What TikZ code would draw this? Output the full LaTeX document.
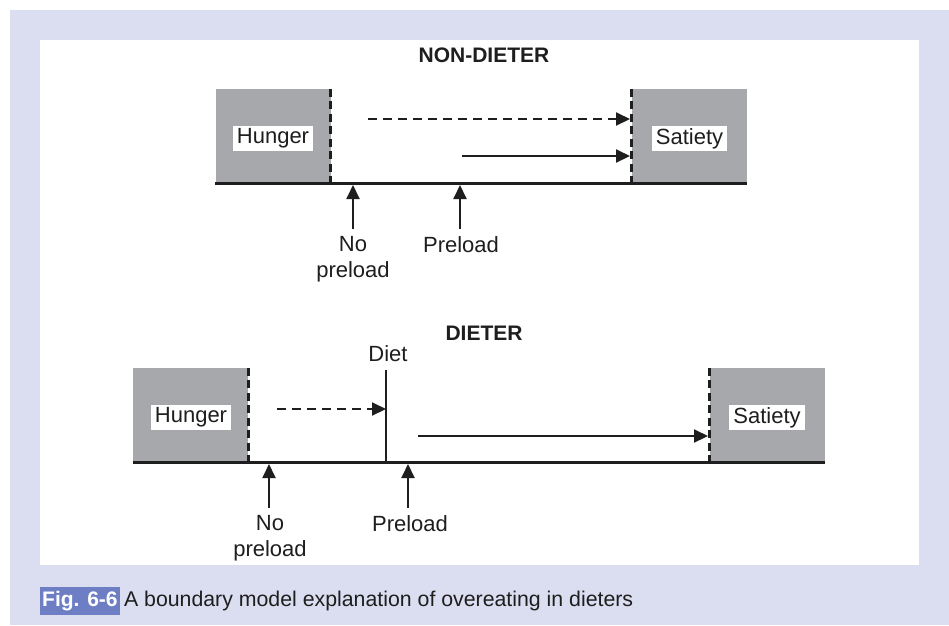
\documentclass[tikz,border=0pt]{standalone}
\usepackage{fontspec}
\setmainfont{Liberation Sans}
\usetikzlibrary{arrows.meta}
\definecolor{panel}{RGB}{219,221,240}
\definecolor{capblue}{RGB}{110,126,196}
\definecolor{boxgray}{RGB}{167,168,171}
\definecolor{ink}{RGB}{30,30,30}
\begin{document}
\begin{tikzpicture}[x=1pt,y=-1pt,
  txt/.style={font=\fontsize{22}{26}\selectfont, text=ink, inner sep=0pt},
  zone/.style={fill=boxgray, minimum width=115pt, minimum height=94pt, inner sep=0pt},
  lab/.style={fill=white, font=\fontsize{22}{26}\selectfont, text=ink, inner xsep=4pt, minimum height=25pt, inner ysep=0pt},
  edge/.style={draw=ink, line width=2.8pt, dash pattern=on 8pt off 4.5pt},
  base/.style={draw=ink, line width=3pt},
  arr/.style={draw=ink, line width=2pt, -{Triangle[length=14pt,width=13pt]}},
  darr/.style={arr, dash pattern=on 9pt off 6pt},
  ttl/.style={font=\bfseries\fontsize{21}{24}\selectfont, text=ink, inner sep=0pt}]
\useasboundingbox (0,0) rectangle (949,625);
\fill[white] (0,0) rectangle (949,625);
\fill[panel] (10,10) rectangle (949,625);
\fill[white] (40,40) rectangle (919,565);

% ---------- NON-DIETER ----------
\node[ttl] (t1) at (484,55) {NON-DIETER};
\node[zone] (h1) at (273,136) {};
\node[zone] (s1) at (689.5,136) {};
\node[lab] (h1l) at (273,138.5) {Hunger};
\node[lab] (s1l) at (689.5,138.5) {Satiety};
\draw[edge] (h1.north east) -- (h1.south east);
\draw[edge] (s1.north west) -- (s1.south west);
\draw[base] (h1.south west) -- (s1.south east);
\coordinate (d1s) at (368,119);
\coordinate (d1e) at (630,119);
\draw[darr] (d1s) -- (d1e);
\coordinate (a1s) at (462,156);
\coordinate (a1e) at (630,156);
\draw[arr] (a1s) -- (a1e);
\node[txt, align=center, anchor=north] (np1) at (353,236) {No\\preload};
\node[txt, anchor=north] (p1) at (461,236) {Preload};
\coordinate (np1b) at (353,229);
\coordinate (p1b) at (460,229);
\coordinate (np1t) at (353,185);
\coordinate (p1t) at (460,185);
\draw[arr] (np1b) -- (np1t);
\draw[arr] (p1b) -- (p1t);

% ---------- DIETER ----------
\node[ttl] (t2) at (484,333) {DIETER};
\node[zone] (h2) at (190.5,415) {};
\node[zone] (s2) at (767.5,415) {};
\node[lab] (h2l) at (191,417.5) {Hunger};
\node[lab] (s2l) at (767,417.5) {Satiety};
\draw[edge] (h2.north east) -- (h2.south east);
\draw[edge] (s2.north west) -- (s2.south west);
\draw[base] (h2.south west) -- (s2.south east);
\node[txt] (diet) at (388,354) {Diet};
\coordinate (dtop) at (386,370);
\coordinate (dbot) at (386,462);
\draw[draw=ink, line width=2pt] (dtop) -- (dbot);
\coordinate (d2s) at (277,409);
\coordinate (d2e) at (386,409);
\draw[darr] (d2s) -- (d2e);
\coordinate (a2s) at (418,436);
\coordinate (a2e) at (708,436);
\draw[arr] (a2s) -- (a2e);
\node[txt, align=center, anchor=north] (np2) at (270,515) {No\\preload};
\node[txt, anchor=north] (p2) at (410,515) {Preload};
\coordinate (np2b) at (269,508);
\coordinate (p2b) at (408,508);
\coordinate (np2t) at (269,464);
\coordinate (p2t) at (408,464);
\draw[arr] (np2b) -- (np2t);
\draw[arr] (p2b) -- (p2t);

% ---------- caption ----------
\node[fill=capblue, text=white, font=\bfseries\fontsize{21}{24}\selectfont, anchor=west, inner xsep=2pt, minimum height=28pt, inner ysep=0pt] (fig) at (40,601) {Fig. 6-6};
\node[anchor=west, font=\fontsize{21.3}{24}\selectfont, text=ink, inner sep=0pt] (cap) at ([xshift=4pt]fig.east) {A boundary model explanation of overeating in dieters};
\end{tikzpicture}
\end{document}
